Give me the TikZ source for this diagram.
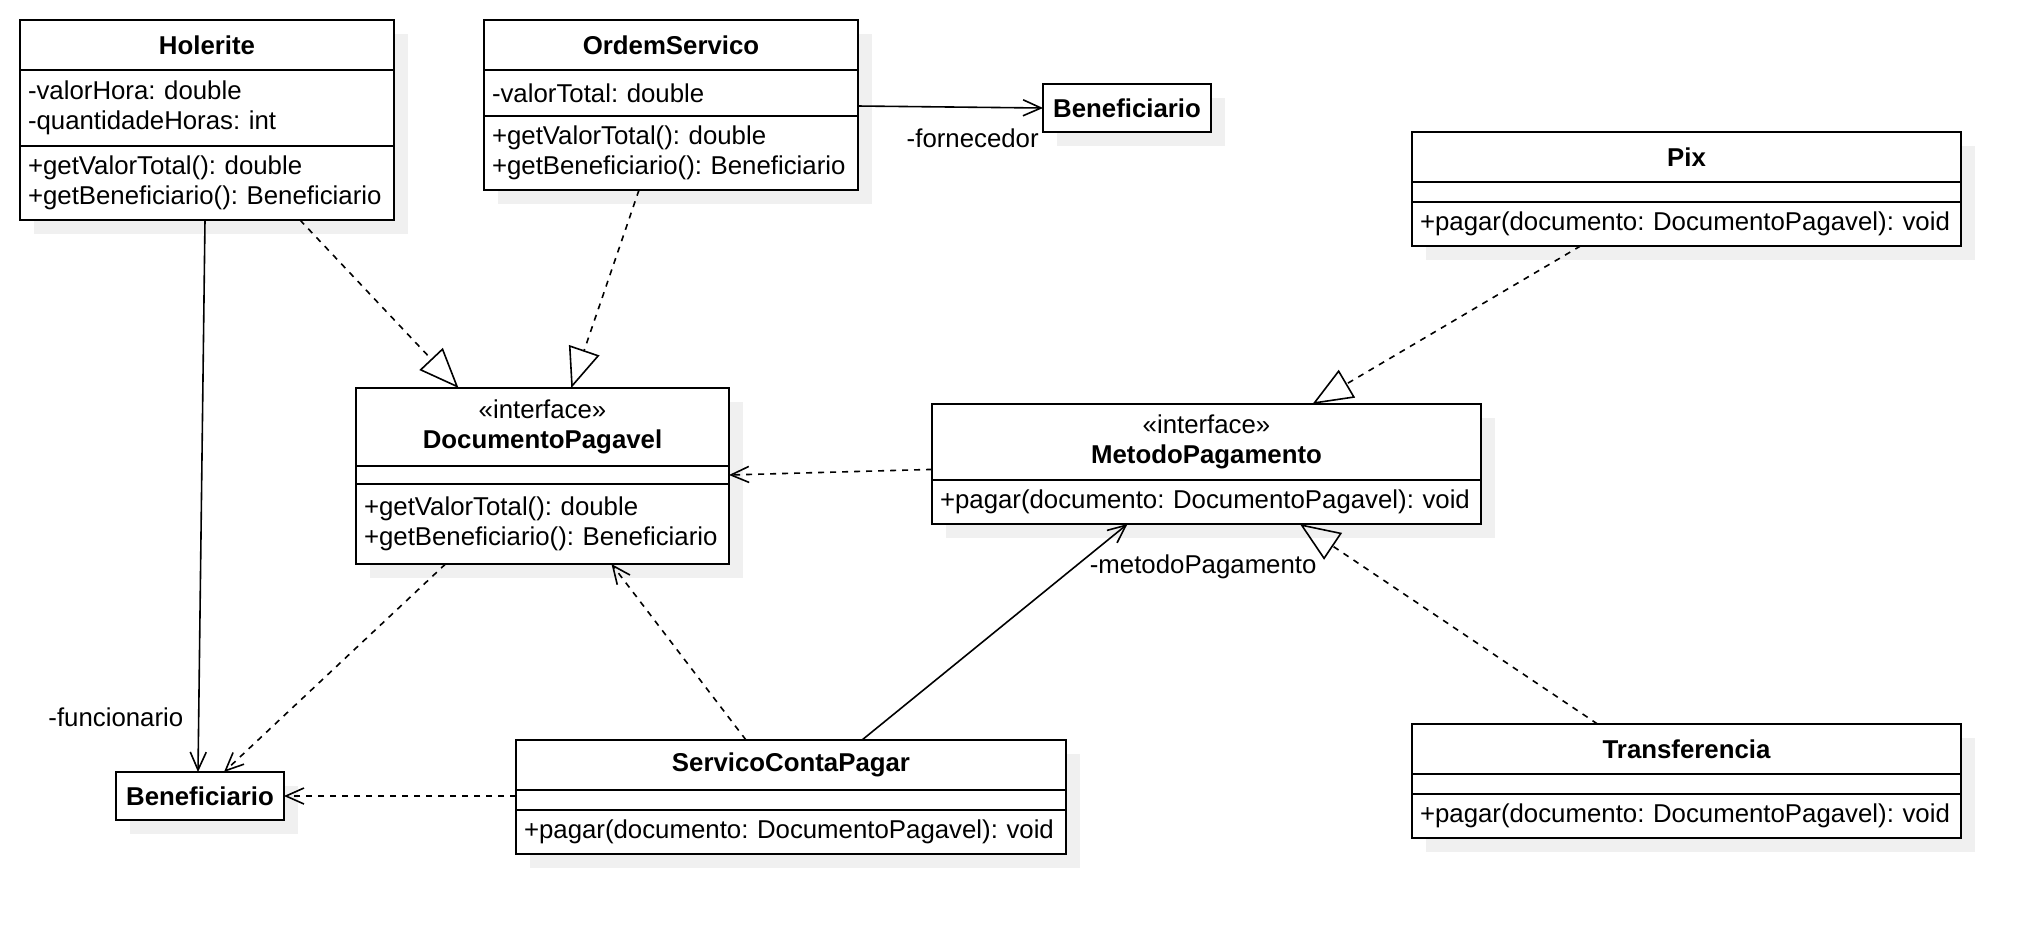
\documentclass[tikz,border=0pt]{standalone}
\usepackage{fontspec}
\setmainfont{Liberation Sans}
\usetikzlibrary{positioning}
\usetikzlibrary{arrows.meta}
\usetikzlibrary{shadows}
\frenchspacing

\begin{document}
\begin{tikzpicture}[x=1pt, y=-1pt, node distance=0pt,
        font=\fontsize{12.9}{15}\selectfont,
        box/.style={draw, line width=1pt, fill=white, inner sep=0pt, outer sep=0pt,
            drop shadow={shadow xshift=7pt, shadow yshift=-7pt, fill=black!6, opacity=1}},
        head/.style={box, anchor=north west, align=center, font=\fontsize{12.9}{15}\selectfont\bfseries},
        members/.style={box, inner xsep=4pt, align=left, text width=#1},
        blank/.style={box, minimum width=#1, minimum height=10pt},
        realize/.style={draw, line width=0.8pt, dash pattern=on 3pt off 3pt, -{Triangle[open, length=20pt, width=16pt]}},
        depend/.style={draw, line width=0.8pt, dash pattern=on 3pt off 3pt, -{Straight Barb[length=9pt, width=8pt]}},
        assoc/.style={draw, line width=0.8pt, -{Straight Barb[length=9pt, width=8pt]}}]
        \useasboundingbox (0,0) rectangle (1020,467);

        \node[head, minimum width=187pt, minimum height=25pt] (holerite) at (10,10) {Holerite};
        \node[members=179pt, minimum height=38pt, below=of holerite] (holerite attr) {-valorHora: double\\-quantidadeHoras: int};
        \node[members=179pt, minimum height=37pt, below=of holerite attr] (holerite ops) {+getValorTotal(): double\\+getBeneficiario(): Beneficiario};

        \node[head, minimum width=187pt, minimum height=25pt] (ordem) at (242,10) {OrdemServico};
        \node[members=179pt, minimum height=23pt, below=of ordem] (ordem attr) {-valorTotal: double};
        \node[members=179pt, minimum height=37pt, below=of ordem attr] (ordem ops) {+getValorTotal(): double\\+getBeneficiario(): Beneficiario};

        \node[head, minimum width=84pt, minimum height=24pt] (beneficiario a) at (521.5,42) {Beneficiario};

        \node[head, minimum width=274.5pt, minimum height=25pt] (pix) at (706,66) {Pix};
        \node[blank=274.5pt, below=of pix] (pix attr) {};
        \node[members=266.5pt, minimum height=22pt, below=of pix attr] (pix ops) {+pagar(documento: DocumentoPagavel): void};

        \node[head, minimum width=186.5pt, minimum height=39pt] (documento) at (178,194) {{\mdseries «interface»}\\DocumentoPagavel};
        \node[blank=186.5pt, minimum height=9pt, below=of documento] (documento attr) {};
        \node[members=178.5pt, minimum height=40pt, below=of documento attr] (documento ops) {+getValorTotal(): double\\+getBeneficiario(): Beneficiario};

        \node[head, minimum width=274.5pt, minimum height=38pt] (metodo) at (466,202) {{\mdseries «interface»}\\MetodoPagamento};
        \node[members=266.5pt, minimum height=22pt, below=of metodo] (metodo ops) {+pagar(documento: DocumentoPagavel): void};

        \node[head, minimum width=275pt, minimum height=25pt] (servico) at (258,370) {ServicoContaPagar};
        \node[blank=275pt, below=of servico] (servico attr) {};
        \node[members=267pt, minimum height=22pt, below=of servico attr] (servico ops) {+pagar(documento: DocumentoPagavel): void};

        \node[head, minimum width=274.5pt, minimum height=25pt] (transferencia) at (706,362) {Transferencia};
        \node[blank=274.5pt, below=of transferencia] (transferencia attr) {};
        \node[members=266.5pt, minimum height=22pt, below=of transferencia attr] (transferencia ops) {+pagar(documento: DocumentoPagavel): void};

        \node[head, minimum width=84pt, minimum height=24pt] (beneficiario b) at (58,386) {Beneficiario};

        % associations
        \draw[assoc] ([yshift=5pt]ordem attr.south east) -- (beneficiario a.west) node[below=7pt, pos=0.62] (fornecedor label) {-fornecedor};
        \draw[assoc] ([xshift=-1pt]holerite ops.south) -- ([xshift=-1pt]beneficiario b.north) node[left=4pt, pos=0.9] (funcionario label) {-funcionario};
        \draw[assoc] ([xshift=35.5pt]servico.north) -- ([xshift=-39.5pt]metodo ops.south) node[right=4pt, pos=0.8] (metodo label) {-metodoPagamento};

        % realizations
        \draw[realize] ([xshift=46.5pt]holerite ops.south) -- ([xshift=-42pt]documento.north);
        \draw[realize] ([xshift=-16pt]ordem ops.south) -- ([xshift=14.4pt]documento.north);
        \draw[realize] ([xshift=-53pt]pix ops.south) -- ([xshift=53pt]metodo.north);
        \draw[realize] ([xshift=-44.5pt]transferencia.north) -- ([xshift=46.7pt]metodo ops.south);

        % dependencies
        \draw[depend] ([yshift=5.3pt]metodo ops.north west) -- (documento attr.east);
        \draw[depend] ([xshift=-48.5pt]documento ops.south) -- ([xshift=12pt]beneficiario b.north);
        \draw[depend] ([xshift=-22.5pt]servico.north) -- ([xshift=34.5pt]documento ops.south);
        \draw[depend] (beneficiario b.east -| servico attr.west) -- (beneficiario b.east);
    \end{tikzpicture}
\end{document}
